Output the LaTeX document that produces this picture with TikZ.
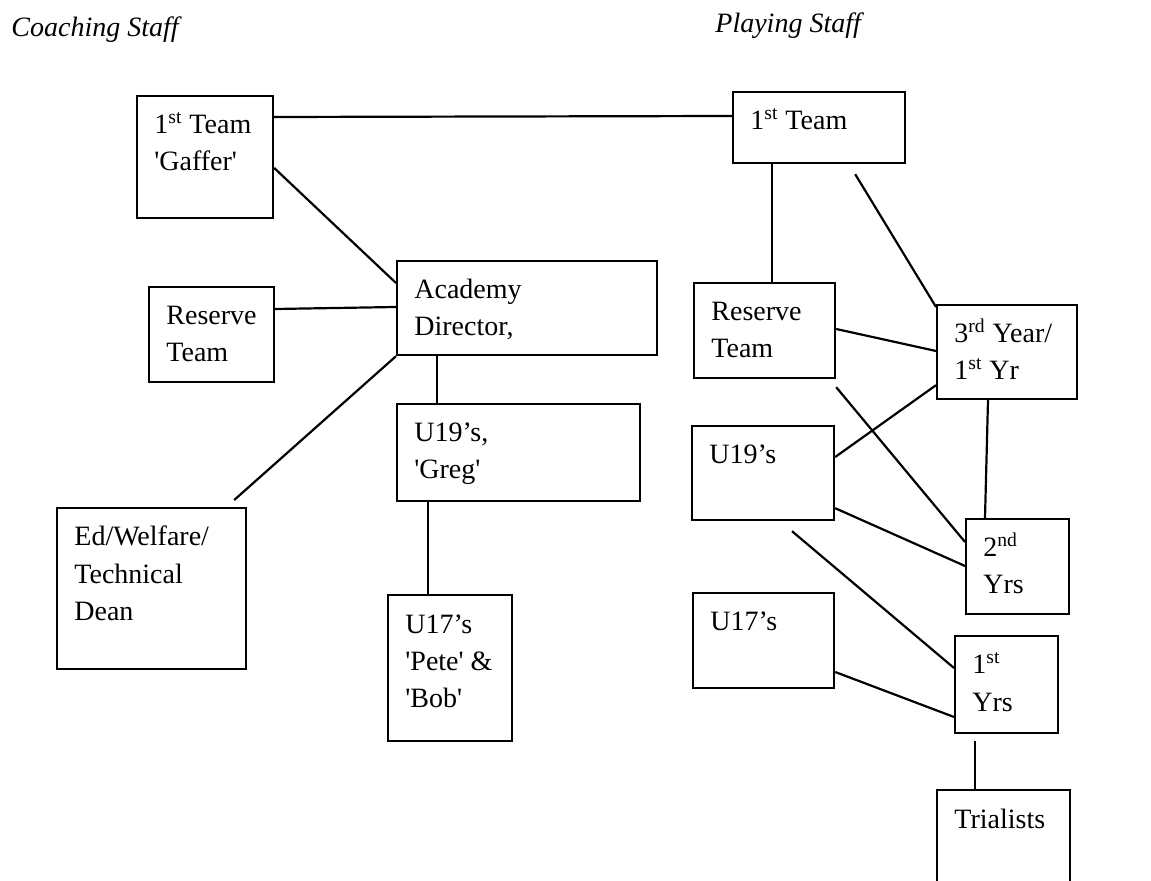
\documentclass[tikz,border=0pt]{standalone}
\usepackage{fontspec}
\setmainfont{Liberation Serif}
\usetikzlibrary{calc}
\newcommand{\sq}{\textquotesingle}
\begin{document}
\begin{tikzpicture}[x=0.5pt,y=-0.5pt,
	box/.style={draw,line width=1.1pt,anchor=north west,inner sep=0pt},
	txt/.style={anchor=base west,xshift=9pt,yshift=-19.5pt,align=flush left,text width=150pt,inner sep=0pt,font=\fontsize{14}{18.5}\selectfont},
	link/.style={line width=1.1pt}]
	\useasboundingbox (0,0) rectangle (1151,881);
	\clip (0,0) rectangle (1151,881);
	\node[anchor=base west,inner sep=0pt,font=\fontsize{14}{18.5}\selectfont\itshape] (coachtitle) at (11,37) {Coaching Staff};
	\node[anchor=base west,inner sep=0pt,font=\fontsize{14}{18.5}\selectfont\itshape] (playtitle) at (715,33) {Playing Staff};
	% coaching side
	\node[box,minimum width=68pt,minimum height=61pt,label={[txt]north west:{1\textsuperscript{st} Team\\\sq Gaffer\sq}}] (gaffer) at (136,95) {};
	\node[box,minimum width=62.5pt,minimum height=47.5pt,label={[txt]north west:{Reserve\\Team}}] (coachres) at (148,286) {};
	\node[box,minimum width=130pt,minimum height=47pt,label={[txt]north west:{Academy\\Director,}}] (director) at (396,260) {};
	\node[box,minimum width=121.5pt,minimum height=48.5pt,label={[txt]north west:{U19’s,\\\sq Greg\sq}}] (greg) at (396,403) {};
	\node[box,minimum width=94.5pt,minimum height=80.5pt,label={[txt]north west:{Ed/Welfare/\\Technical\\Dean}}] (welfare) at (56,507) {};
	\node[box,minimum width=62pt,minimum height=73pt,label={[txt]north west:{U17’s\\\sq Pete\sq{} \&\\\sq Bob\sq}}] (pete) at (387,594) {};
	% playing side
	\node[box,minimum width=86pt,minimum height=35.5pt,label={[txt]north west:{1\textsuperscript{st} Team}}] (firstteam) at (732,91) {};
	\node[box,minimum width=70.5pt,minimum height=47.5pt,label={[txt]north west:{Reserve\\Team}}] (playres) at (693,282) {};
	\node[box,minimum width=70pt,minimum height=47pt,label={[txt]north west:{3\textsuperscript{rd} Year/\\1\textsuperscript{st} Yr}}] (thirdyr) at (936,304) {};
	\node[box,minimum width=71pt,minimum height=47pt,label={[txt]north west:{U19’s}}] (u19) at (691,425) {};
	\node[box,minimum width=51.5pt,minimum height=47.5pt,label={[txt]north west:{2\textsuperscript{nd}\\Yrs}}] (secondyr) at (965,518) {};
	\node[box,minimum width=70.5pt,minimum height=47.5pt,label={[txt]north west:{U17’s}}] (u17) at (692,592) {};
	\node[box,minimum width=51.5pt,minimum height=48.5pt,label={[txt]north west:{1\textsuperscript{st}\\Yrs}}] (firstyr) at (954,635) {};
	\node[box,minimum width=66.5pt,minimum height=55pt,label={[txt]north west:{Trialists}}] (trial) at (936,789) {};
	\coordinate (welfend) at ($(welfare.north east)+(-13,-7)$);
	\coordinate (ftend) at ($(firstteam.south east)+(-51,10)$);
	\coordinate (resend) at ($(playres.south east)+(0,8)$);
	\coordinate (u19end) at ($(u19.south west)+(101,10)$);
	\draw[link] ($(gaffer.north east)+(0,22)$) -- ($(firstteam.north west)+(0,25)$);
	\draw[link] ($(gaffer.north east)+(0,73)$) -- ($(director.north west)+(0,23)$);
	\draw[link] ($(coachres.north east)+(0,23)$) -- ($(director.north west)+(0,47)$);
	\draw[link] (director.south west) -- (welfend);
	\draw[link] ($(director.south west)+(41,0)$) -- ($(greg.north west)+(41,0)$);
	\draw[link] ($(greg.south west)+(32,0)$) -- ($(pete.north west)+(41,0)$);
	\draw[link] ($(firstteam.south west)+(40,0)$) -- ($(playres.north west)+(79,0)$);
	\draw[link] (ftend) -- ($(thirdyr.north west)+(0,3)$);
	\draw[link] ($(playres.north east)+(0,47)$) -- ($(thirdyr.north west)+(0,47)$);
	\draw[link] (resend) -- ($(secondyr.north west)+(0,24)$);
	\draw[link] ($(u19.north east)+(0,32)$) -- ($(thirdyr.south west)+(0,-15)$);
	\draw[link] ($(u19.south east)+(0,-13)$) -- ($(secondyr.north west)+(0,48)$);
	\draw[link] ($(thirdyr.south west)+(52,0)$) -- ($(secondyr.north west)+(20,0)$);
	\draw[link] (u19end) -- ($(firstyr.north west)+(0,33)$);
	\draw[link] ($(u17.north east)+(0,80)$) -- ($(firstyr.north west)+(0,82)$);
	\draw[link] ($(firstyr.south west)+(21,7)$) -- ($(trial.north west)+(39,0)$);
\end{tikzpicture}
\end{document}
